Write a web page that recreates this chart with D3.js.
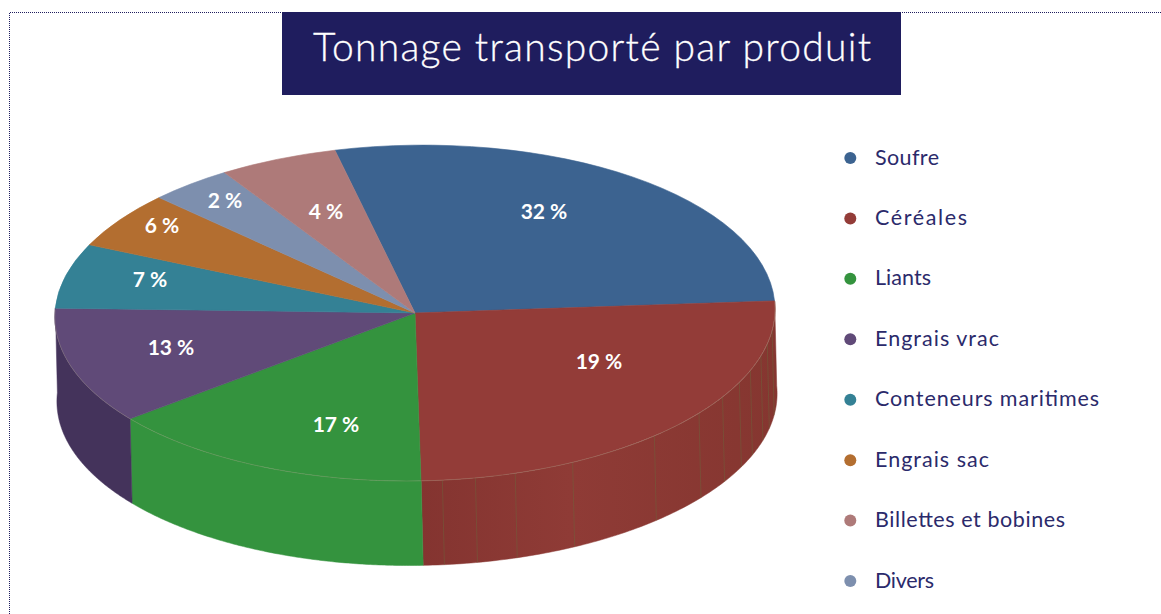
<!DOCTYPE html>
<html><head><meta charset="utf-8">
<style>html,body{margin:0;padding:0;background:#fff}svg{display:block}</style>
<script src="https://cdn.jsdelivr.net/npm/d3@7/dist/d3.min.js"></script></head>
<body><svg id="c" width="1161" height="614"></svg>
<script>
const titleText = "Tonnage transporté par produit";
const categories = ["Soufre","Céréales","Liants","Engrais vrac","Conteneurs maritimes","Engrais sac","Billettes et bobines","Divers"];
const percentLabels = [32,19,17,13,7,6,4,2];
// Slices in drawing order, with the share each one visibly occupies in the picture
const sliceOrder = ["Soufre","Céréales","Liants","Engrais vrac","Conteneurs maritimes","Engrais sac","Divers","Billettes et bobines"];
const sliceShares = [27.8,25.5,14.8,11.3,6.2,5.4,3.7,5.3];
const colors = ["#3c6390","#933c38","#34933e","#604a78","#348195","#b36e30","#ae7a79","#7d8fae"];

// layout
const wallColors = {"Céréales":"url(#redWall)","Liants":"#34933e","Engrais vrac":"#44335b"};
const labelPositions = [[544,212],[599,362],[336,425],[171,348],[150,280],[162,226],[326,212],[225,201]];
const legendWidths = [64,92,56,124,224,114,190,59];
const redWallSeamsDeg = [174.3,169,162.5,152.7,137,126.6,120,114.4,110,104.8,100.6,96];

const svg = d3.select("#c");
const rad = Math.PI/180;
const startDeg = -14.2;
const cx = 415, cy = 313, rx = 360, ry = 168, depth = 84.5, driftX = 2, shear = 0.05;
const xS = d3.scaleLinear().domain([-1,1]).range([cx-rx,cx+rx]);
const yS = d3.scaleLinear().domain([-1,1]).range([cy-ry,cy+ry]);
const colorOf = d3.scaleOrdinal().domain(categories).range(colors);
const topPt = a => [xS(Math.sin(a)) + shear*ry*Math.cos(a), yS(-Math.cos(a))];
const botPt = a => { const p = topPt(a); return [p[0]+driftX, p[1]+depth]; };

const grad = svg.append("defs").append("linearGradient").attr("id","redWall")
  .attr("gradientUnits","userSpaceOnUse").attr("x1",420).attr("x2",778).attr("y1",0).attr("y2",0);
[[0,"#843430"],[0.42,"#8f3b36"],[1,"#853630"]].forEach(s=>grad.append("stop").attr("offset",s[0]).attr("stop-color",s[1]));

// outer dotted frame
svg.append("path").attr("d","M9.5,614V12.5H1161")
  .attr("fill","none").attr("stroke","#1f1d5e").attr("stroke-width",1).attr("stroke-dasharray","1 1");

// title
svg.append("rect").attr("x",282).attr("y",12).attr("width",619).attr("height",83).attr("fill","#1f1d5e");
svg.append("text").attr("x",313).attr("y",61).attr("textLength",558).attr("lengthAdjust","spacing")
  .attr("font-family","Lato").attr("font-weight",300).attr("font-size",39)
  .attr("stroke","#fff").attr("stroke-width",.3).attr("fill","#fff").text(titleText);

const pie = d3.pie().sort(null).value(d=>d.share)
  .startAngle(startDeg*rad).endAngle((startDeg+360)*rad);
const arcs = pie(sliceOrder.map((n,i)=>({name:n,share:sliceShares[i]})));

// side wall: the front part of each slice that faces the viewer
const line = d3.line();
const g = svg.append("g");
arcs.forEach(a=>{
  const wall = wallColors[a.data.name]; if(!wall) return;
  const a0 = Math.max(a.startAngle, 86*rad), a1 = Math.min(a.endAngle, 272*rad);
  if(a1<=a0) return;
  const steps = d3.range(0,121).map(i=>a0+(a1-a0)*i/120);
  const pts = steps.map(topPt).concat(steps.slice().reverse().map(botPt));
  g.append("path").attr("d",line(pts)+"Z").attr("fill",wall).attr("stroke",wall).attr("stroke-width",.5);
});
// faint seams on the red wall
redWallSeamsDeg.forEach(d=>{
  const a=d*rad, p=topPt(a), q=botPt(a);
  g.append("line").attr("x1",p[0]).attr("y1",p[1]).attr("x2",q[0]).attr("y2",q[1])
    .attr("stroke","#6b6a3e").attr("stroke-width",.8).attr("opacity",.55);
});

// top face
const arc = d3.arc().innerRadius(0).outerRadius(1);
const face = svg.append("g").attr("transform",`matrix(${rx},0,${-shear*ry},${ry},${cx},${cy})`);
arcs.forEach(a=>{
  face.append("path").attr("d",arc(a)).attr("fill",colorOf(a.data.name))
    .attr("stroke",colorOf(a.data.name)).attr("stroke-width",.6).attr("vector-effect","non-scaling-stroke");
});
// pale rim where the top meets the wall
const rim = d3.range(0,121).map(i=>topPt((86+i*(271-86)/120)*rad));
svg.append("path").attr("d",line(rim)).attr("fill","none").attr("stroke","#a39a80").attr("stroke-width",.7).attr("opacity",.45);

// labels
svg.append("g").selectAll("text").data(categories).join("text")
  .attr("x",(d,i)=>labelPositions[i][0]).attr("y",(d,i)=>labelPositions[i][1]+7)
  .attr("text-anchor","middle").attr("font-family","Lato").attr("font-weight",700).attr("font-size",21)
  .attr("fill","#fff").text((d,i)=>percentLabels[i]+" %");

// legend
const yL = d3.scalePoint().domain(categories).range([158,581]);
const lg = svg.append("g");
lg.selectAll("circle").data(categories).join("circle")
  .attr("cx",850.3).attr("cy",d=>yL(d)).attr("r",6).attr("fill",d=>colorOf(d));
lg.selectAll("text").data(categories).join("text")
  .attr("x",875).attr("y",d=>yL(d)+6.5).attr("font-family","Lato").attr("font-weight",400).attr("font-size",21.5)
  .attr("textLength",(d,i)=>legendWidths[i]).attr("lengthAdjust","spacing")
  .attr("fill","#2b2a6b").text(d=>d);
</script></body></html>
